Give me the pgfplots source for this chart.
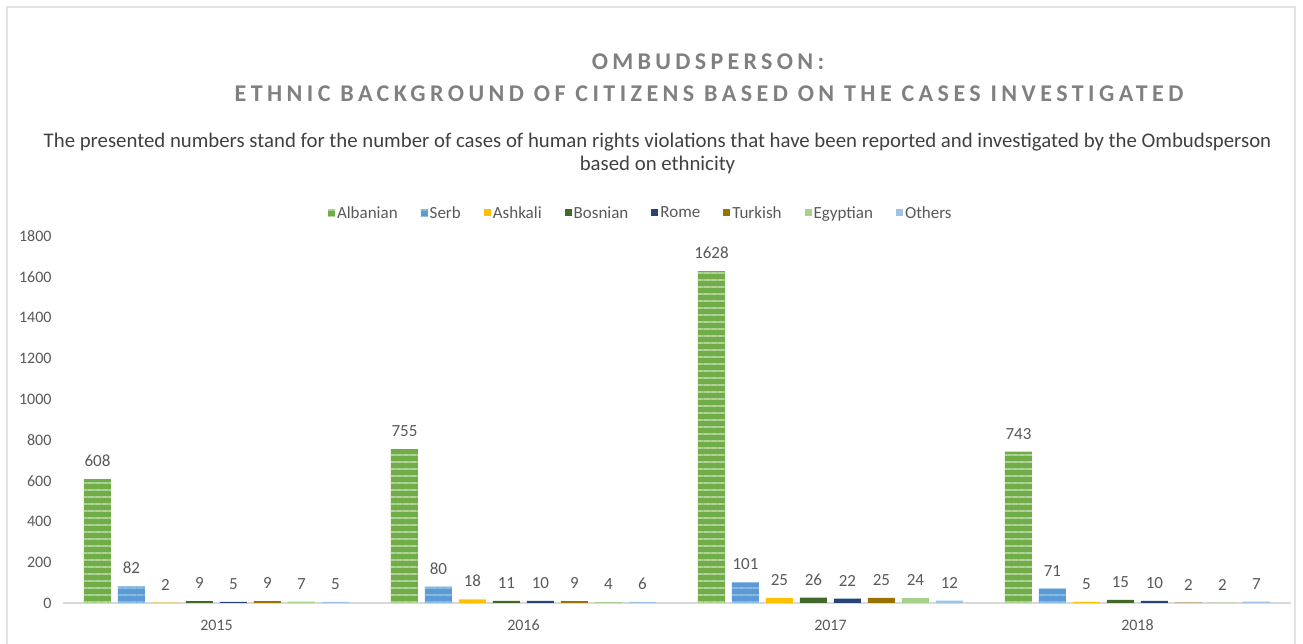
\documentclass[border=0pt]{standalone}
\usepackage{pgfplots}
\pgfplotsset{compat=1.18}
\usepackage{fontspec}
\setmainfont{Carlito}
\usetikzlibrary{patterns.meta}
\definecolor{cAlb}{HTML}{70AD47}
\definecolor{cSer}{HTML}{5B9BD5}
\definecolor{cAsh}{HTML}{FFC000}
\definecolor{cBos}{HTML}{43682B}
\definecolor{cRom}{HTML}{264478}
\definecolor{cTur}{HTML}{997300}
\definecolor{cEgy}{HTML}{A9D18E}
\definecolor{cOth}{HTML}{9DC3E6}
\definecolor{titlegray}{HTML}{808080}
\definecolor{subgray}{HTML}{404040}
\definecolor{lblgray}{HTML}{595959}
\definecolor{axgray}{HTML}{D9D9D9}
\begin{document}
\begin{tikzpicture}[x=1pt,y=1pt]
\useasboundingbox (-63,-41) rectangle (1240,603);
\draw[color=gray!22, line width=1.5pt] (-56,-60) -- (-56,596) -- (1232,596) -- (1232,-60);
\node[font=\fontsize{24}{28}\selectfont\bfseries\addfontfeature{LetterSpace=18}, text=titlegray, anchor=base] at (645,533) {OMBUDSPERSON:};
\node[font=\fontsize{24}{28}\selectfont\bfseries\addfontfeature{LetterSpace=18.5}, text=titlegray, anchor=base] at (646,501) {ETHNIC BACKGROUND OF CITIZENS BASED ON THE CASES INVESTIGATED};
\node[font=\fontsize{20.8}{24}\selectfont, text=subgray, anchor=base] at (594.5,455) {The presented numbers stand for the number of cases of human rights violations that have been reported and investigated by the Ombudsperson};
\node[font=\fontsize{20.8}{24}\selectfont, text=subgray, anchor=base] at (594.5,432) {based on ethnicity};
\begin{axis}[
  at={(0,0)}, anchor=south west,
  scale only axis, width=1228pt, height=367pt,
  ybar=7pt, bar width=27pt,
  xmin=-0.5, xmax=3.5, ymin=0, ymax=1800,
  xtick={0,1,2,3}, xticklabels={2015,2016,2017,2018},
  ytick={0,200,...,1800},
  /pgf/number format/assume math mode=true,
  /pgf/number format/1000 sep={},
  axis x line*=bottom,
  axis y line*=left,
  x axis line style={draw=axgray, line width=1.5pt, -},
  y axis line style={draw=none},
  tick style={draw=none},
  ticklabel style={font=\fontsize{16}{18}\selectfont, text=lblgray},
  xticklabel style={yshift=-9pt},
  yticklabel style={xshift=-8pt},
  nodes near coords,
  every node near coord/.append style={font=\fontsize{17}{19}\selectfont, text=lblgray, anchor=base, inner sep=0pt, yshift=12.5pt},
  legend columns=-1,
  legend style={at={(axis description cs:0.2158,1.0627)}, anchor=west, draw=none, inner sep=0pt, outer sep=0pt,
    font=\fontsize{17}{19}\selectfont, text=lblgray,
    nodes={inner sep=2pt},
    /tikz/every even column/.append style={column sep=21pt}},
  legend image code/.code={\fill[#1] (0pt,-3.5pt) rectangle (7pt,3.5pt);},
]
\addplot[fill=cAlb, draw=none, postaction={pattern={Lines[angle=0,distance=7pt,line width=2.5pt]}, pattern color=white!45!cAlb}] coordinates {(0,608) (1,755) (2,1628) (3,743)};
\addplot[fill=cSer, draw=none, postaction={pattern={Lines[angle=0,distance=7pt,line width=2pt]}, pattern color=white!30!cSer}] coordinates {(0,82) (1,80) (2,101) (3,71)};
\addplot[fill=cAsh, draw=none] coordinates {(0,2) (1,18) (2,25) (3,5)};
\addplot[fill=cBos, draw=none] coordinates {(0,9) (1,11) (2,26) (3,15)};
\addplot[fill=cRom, draw=none] coordinates {(0,5) (1,10) (2,22) (3,10)};
\addplot[fill=cTur, draw=none] coordinates {(0,9) (1,9) (2,25) (3,2)};
\addplot[fill=cEgy, draw=none] coordinates {(0,7) (1,4) (2,24) (3,2)};
\addplot[fill=cOth, draw=none] coordinates {(0,5) (1,6) (2,12) (3,7)};
\legend{Albanian,Serb,Ashkali,Bosnian,Rome,Turkish,Egyptian,Others}
\end{axis}
\end{tikzpicture}
\end{document}
